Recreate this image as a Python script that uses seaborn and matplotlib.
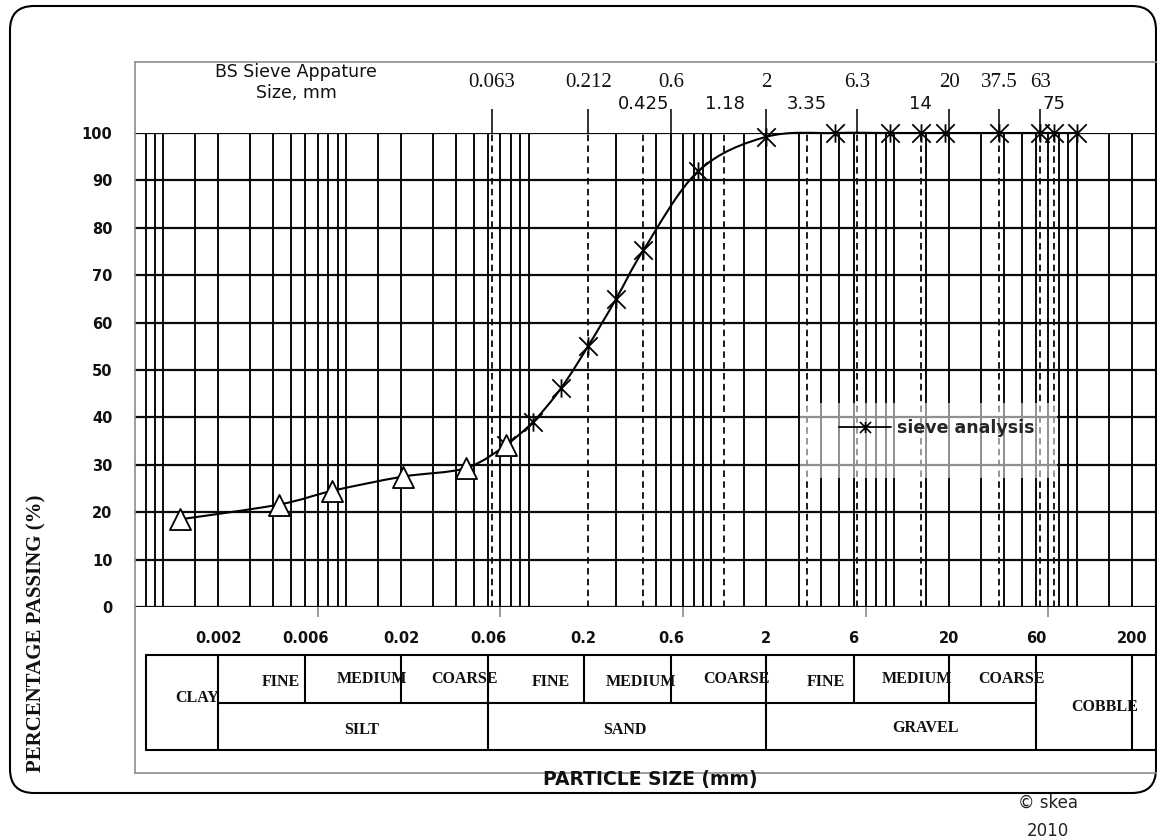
import numpy as np
import pandas as pd
import matplotlib
matplotlib.use("Agg")
import matplotlib.pyplot as plt
import seaborn as sns
from matplotlib.path import Path
from matplotlib.patches import PathPatch, Rectangle, FancyBboxPatch
from matplotlib.lines import Line2D
from matplotlib.ticker import FixedLocator, FixedFormatter, NullFormatter
from matplotlib import transforms as mtransforms

# ---------------- data ----------------
hydro_size = [0.00124, 0.00428, 0.00839, 0.0204, 0.0453, 0.0755]
hydro_pass = [18.5, 21.6, 24.5, 27.5, 29.3, 34.1]

sieve_size = [0.0755, 0.106, 0.15, 0.212, 0.3, 0.425, 0.85, 2.0, 4.75, 9.5, 14, 19, 37.5, 63, 75, 100]
sieve_pass = [34.1, 39.1, 46.1, 55.1, 64.9, 75.3, 92.0, 99.2, 100, 100, 100, 100, 100, 100, 100, 100]

y_ticks = [0, 10, 20, 30, 40, 50, 60, 70, 80, 90, 100]
x_label_ticks = [0.002, 0.006, 0.02, 0.06, 0.2, 0.6, 2, 6, 20, 60, 200]
x_label_text = ["0.002", "0.006", "0.02", "0.06", "0.2", "0.6", "2", "6", "20", "60", "200"]
axis_major_ticks = [0.007, 0.07, 0.7, 7, 70]
x_range = [0.0007, 275]

grid_sizes = [0.0008, 0.0009, 0.001, 0.0015, 0.002, 0.003, 0.004, 0.005, 0.006, 0.007,
              0.008, 0.009, 0.01, 0.015, 0.02, 0.03, 0.04, 0.05, 0.06, 0.07, 0.08, 0.09,
              0.1, 0.3, 0.5, 0.6, 0.7, 0.8, 0.9, 1, 1.5, 2, 3, 4, 5, 6, 7, 8, 9,
              10, 15, 20, 30, 40, 50, 60, 70, 80, 90, 100, 150, 200]
dashed_sieves = [0.063, 0.212, 0.425, 1.18, 3.35, 6.3, 14, 37.5, 63, 75]

bs_top = [0.063, 0.212, 0.6, 2, 6.3, 20, 37.5, 63]
bs_top_labels = ["0.063", "0.212", "0.6", "2", "6.3", "20", "37.5", "63"]
bs_low = [0.425, 1.18, 3.35, 14, 75]
bs_low_labels = ["0.425", "1.18", "3.35", "14", "75"]

class_full = [0.002, 0.06, 2, 60, 200]
class_half = [0.006, 0.02, 0.2, 0.6, 6, 20]
class_mid_span = [0.002, 60]

# ---------------- style ----------------
sns.set_theme(style="white")
plt.rcParams["font.family"] = ["DejaVu Sans"]

W, H = 1157, 839
fig = plt.figure(figsize=(W / 100, H / 100), dpi=100)
fig.patch.set_facecolor("white")


def fx(px):
    return px / W


def fy(py):
    return 1 - py / H


# main grid axes
ax = fig.add_axes([fx(135), fy(607), fx(1157) - fx(135), fy(133) - fy(607)])
ax.set_facecolor("white")
ax.set_xscale("log")
ax.set_xlim(*x_range)
ax.set_ylim(0, 100)
for s in ax.spines.values():
    s.set_visible(False)

ax.vlines(grid_sizes, 0, 100, colors="#0a0a0a", lw=1.4, zorder=1)
ax.vlines(dashed_sieves, 0, 100, colors="#0a0a0a", lw=1.3,
          linestyles=[(0, (3.6, 2.4))], zorder=1)
ax.hlines(y_ticks, x_range[0], x_range[1], colors="#0a0a0a", lw=1.6, zorder=1)

# ticks
ax.xaxis.set_major_locator(FixedLocator(axis_major_ticks))
ax.xaxis.set_major_formatter(NullFormatter())
ax.xaxis.set_minor_locator(FixedLocator(x_label_ticks))
ax.xaxis.set_minor_formatter(FixedFormatter(x_label_text))
ax.tick_params(axis="x", which="major", bottom=True, length=7, width=1.2,
               color="#8a8a8a", direction="out")
ax.tick_params(axis="x", which="minor", bottom=True, length=0, pad=17.3,
               labelsize=10.5)
ax.set_yticks(y_ticks)
ax.set_yticklabels([str(v) for v in y_ticks])
ax.tick_params(axis="y", which="both", left=True, length=0, pad=16.2, labelsize=10.5)
for lbl in ax.get_xticklabels(minor=True) + ax.get_yticklabels():
    lbl.set_fontweight("bold")
    lbl.set_color("#111111")


# smooth curves (Catmull-Rom -> cubic Bezier in log-x space)
def smooth_path(xs, ys):
    P = np.column_stack([np.log10(np.asarray(xs, float)), np.asarray(ys, float)])
    n = len(P)
    verts = [P[0]]
    codes = [Path.MOVETO]
    for i in range(n - 1):
        p0 = P[i - 1] if i > 0 else P[i]
        p1, p2 = P[i], P[i + 1]
        p3 = P[i + 2] if i + 2 < n else P[i + 1]
        verts += [p1 + (p2 - p0) / 6, p2 - (p3 - p1) / 6, p2]
        codes += [Path.CURVE4] * 3
    V = np.array(verts)
    V[:, 0] = 10 ** V[:, 0]
    return Path(V, codes)


ax.add_patch(PathPatch(smooth_path(sieve_size, sieve_pass), fill=False,
                       ec="black", lw=1.5, zorder=3, transform=ax.transData,
                       clip_on=False))
ax.add_patch(PathPatch(smooth_path(hydro_size, hydro_pass), fill=False,
                       ec="black", lw=1.5, zorder=3, transform=ax.transData))

star = Path([(-1, -1), (1, 1), (-1, 1), (1, -1), (0, -1), (0, 1)],
            [Path.MOVETO, Path.LINETO] * 3)

df_s = pd.DataFrame({"size": sieve_size, "passing": sieve_pass})
df_h = pd.DataFrame({"size": hydro_size, "passing": hydro_pass})
sns.scatterplot(data=df_s, x="size", y="passing", marker=star, s=175,
                color="black", edgecolor="black", linewidth=1.3, zorder=4,
                legend=False, clip_on=False, ax=ax)
sns.scatterplot(data=df_h, x="size", y="passing", marker="^", s=230,
                color="white", edgecolor="black", linewidth=1.3, zorder=5,
                legend=False, clip_on=False, ax=ax)
ax.set_xlabel("")
ax.set_ylabel("")

# top sieve labels and ticks
blend = mtransforms.blended_transform_factory(ax.transData, ax.transAxes)
ax.vlines(bs_top, 100, 105.1, colors="#111111", lw=1.2, clip_on=False, zorder=2)
for xv, t in zip(bs_top, bs_top_labels):
    ax.text(xv, (607 - 87.3) / 474, t, transform=blend, ha="center", va="baseline",
            family="Liberation Serif", fontsize=15, color="#111111")
for xv, t in zip(bs_low, bs_low_labels):
    ax.text(xv, (607 - 109) / 474, t, transform=blend, ha="center", va="baseline",
            family="DejaVu Sans", fontsize=13, color="#111111")

# legend
ax.add_patch(Rectangle((fx(800), fy(478)), fx(257), 75 / H, transform=fig.transFigure,
                       facecolor="white", edgecolor="none", alpha=0.55, zorder=2))
handle = Line2D([], [], color="black", lw=1.3, marker=star, markersize=8,
                markeredgewidth=1.2)
ax.legend(handles=[handle], labels=["sieve analysis"], loc="center left",
          bbox_to_anchor=(fx(830), fy(428)), bbox_transform=fig.transFigure,
          frameon=False, borderpad=0, handlelength=3.0, handletextpad=0.35,
          prop={"weight": "bold", "size": 12.5})

# classification table
tax = fig.add_axes([fx(135), fy(750), fx(1157) - fx(135), fy(655) - fy(750)])
tax.set_xscale("log")
tax.set_xlim(*x_range)
tax.set_ylim(0, 2)
tax.axis("off")
tlw = 1.5
left_frac = (146 - 135) / 1022
tax.axhline(0, xmin=left_frac, xmax=1, color="black", lw=tlw, clip_on=False)
tax.axhline(2, xmin=left_frac, xmax=1, color="black", lw=tlw, clip_on=False)
tax.add_line(Line2D([left_frac, left_frac], [0, 1], transform=tax.transAxes,
                    color="black", lw=tlw, clip_on=False))
tax.vlines(class_full, 0, 2, colors="black", lw=tlw, clip_on=False)
tax.vlines(class_half, 1, 2, colors="black", lw=tlw, clip_on=False)
tax.hlines(1, class_mid_span[0], class_mid_span[1], colors="black", lw=tlw, clip_on=False)

serif_b = dict(family="Liberation Serif", fontweight="bold", fontsize=11.5,
               color="#111111", ha="center", va="baseline")
cap = 5.3
table_texts = [("CLAY", 197, 697), ("FINE", 280.5, 680.7), ("MEDIUM", 372, 677.3),
               ("COARSE", 464, 677.3), ("SILT", 361.7, 728.3), ("FINE", 550.5, 680.7),
               ("MEDIUM", 641, 680.7), ("COARSE", 736.7, 677.3), ("SAND", 625, 728.3),
               ("FINE", 826, 680.7), ("MEDIUM", 917, 677.3), ("COARSE", 1011.5, 677.3),
               ("GRAVEL", 925.3, 726.7), ("COBBLE", 1104.7, 705.7)]
for t, px, py in table_texts:
    fig.text(fx(px), fy(py + cap), t, **serif_b)

# frame lines (plot area)
gray = "#8c8c8c"
ident = mtransforms.IdentityTransform()
fig.add_artist(Line2D([135, 135], [H - 62, H - 773], transform=ident, color=gray, lw=1.2))
fig.add_artist(Line2D([135, 1157], [H - 62, H - 62], transform=ident, color=gray, lw=1.2))
fig.add_artist(Line2D([135, 1157], [H - 773, H - 773], transform=ident, color=gray, lw=1.2))

# rounded outer border
fig.add_artist(FancyBboxPatch((10, H - 793), 1146, 787,
                              boxstyle="round,pad=0,rounding_size=24",
                              transform=ident, fill=False, ec="black", lw=1.5))

# titles / labels
fig.text(fx(296), fy(77), "BS Sieve Appature", ha="center", va="baseline",
         fontsize=12.5, color="#111111")
fig.text(fx(296), fy(98), "Size, mm", ha="center", va="baseline",
         fontsize=12.5, color="#111111")
fig.text(fx(36), fy(633), "PERCENTAGE PASSING (%)", rotation=90, ha="center",
         va="center", family="Liberation Serif", fontweight="bold", fontsize=15,
         color="#111111")
fig.text(fx(650), fy(780), "PARTICLE SIZE (mm)", ha="center", va="center",
         fontweight="bold", fontsize=13.5, color="#111111")
fig.text(fx(1048), fy(803), "© skea", ha="center", va="center", fontsize=12,
         color="#222222")
fig.text(fx(1048), fy(831), "2010", ha="center", va="center", fontsize=12,
         color="#222222")

fig.savefig("out.png", dpi=100, facecolor="white")
